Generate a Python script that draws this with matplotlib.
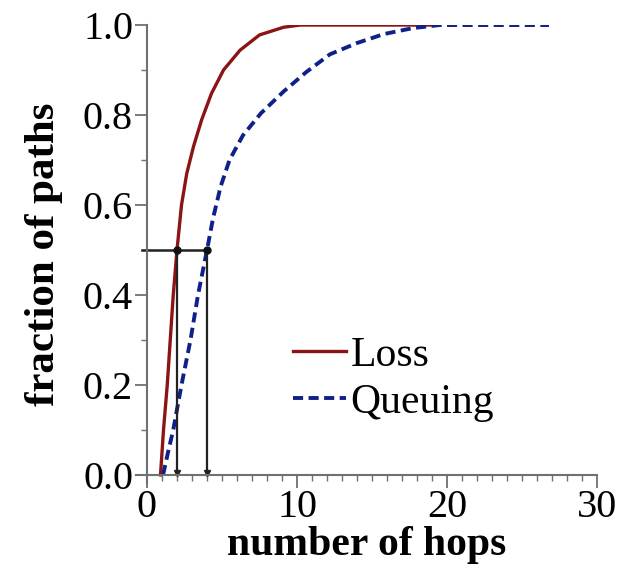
import matplotlib.pyplot as plt
from matplotlib.ticker import MultipleLocator

# CDF of hop distance
loss_x = [0.9, 1.0, 1.1, 1.35, 1.55, 1.75, 2.0, 2.3, 2.65, 3.1, 3.65, 4.3, 5.1, 6.2, 7.5, 9.1, 10.2, 19.5]
loss_y = [0.0, 0.05, 0.1, 0.2, 0.3, 0.4, 0.5, 0.6, 0.67, 0.73, 0.79, 0.848, 0.9, 0.944, 0.978, 0.995, 1.0, 1.0]

queue_x = [1.07, 1.4, 1.75, 2.3, 2.9, 3.4, 4.0, 4.4, 4.9, 5.5, 6.4, 7.6, 9.1, 10.6, 12.2, 14.0, 15.8, 17.7, 19.5, 26.8]
queue_y = [0.0, 0.05, 0.1, 0.2, 0.3, 0.4, 0.5, 0.57, 0.64, 0.7, 0.755, 0.804, 0.852, 0.895, 0.935, 0.96, 0.98, 0.993, 1.0, 1.0]

medians = [2, 4]
median_level = 0.5

plt.rcParams['font.family'] = ['Liberation Serif', 'DejaVu Serif']

fig = plt.figure(figsize=(6.23, 5.65), dpi=100)
ax = fig.add_axes([0.2191, 0.1451, 0.7392, 0.8106])

ax.plot(loss_x, loss_y, color='#8b1414', linewidth=2.4, label='Loss')
ax.plot(queue_x, queue_y, color='#10208b', linewidth=2.8, linestyle=(0, (2.6, 1.4)), label='Queuing')

# median markers
ax.plot([-0.3, max(medians)], [median_level, median_level], color='#222222', linewidth=1.8)
for m in medians:
    ax.plot([m, m], [0, median_level], color='#222222', linewidth=1.6)
    ax.plot(m, median_level, 'o', color='#111111', markersize=5)
    ax.plot(m, 0.005, marker='v', color='#222222', markersize=4)

ax.set_xlim(-0.7, 30)
ax.set_ylim(-0.018, 1.0)

for s in ['top', 'right']:
    ax.spines[s].set_visible(False)
ax.spines['left'].set_position(('data', 0))
ax.spines['bottom'].set_position(('data', 0))
for s in ['left', 'bottom']:
    ax.spines[s].set_color('#707070')
    ax.spines[s].set_linewidth(1.5)

ax.xaxis.set_major_locator(MultipleLocator(10))
ax.xaxis.set_minor_locator(MultipleLocator(1))
ax.yaxis.set_minor_locator(MultipleLocator(0.1))
ax.set_yticks([0.0, 0.2, 0.4, 0.6, 0.8, 1.0])
ax.set_yticklabels(['0.0', '0.2', '0.4', '0.6', '0.8', '1.0'])
ax.tick_params(which='major', length=9, width=1.3, color='#707070', labelsize=29, pad=1)
ax.tick_params(which='minor', length=4, width=1.0, color='#707070')

ax.set_xlabel('number of hops', fontsize=30, fontweight='bold', labelpad=0)
ax.set_ylabel('fraction of paths', fontsize=31, fontweight='bold', labelpad=14)

ax.legend(loc='center left', bbox_to_anchor=(8.33, 0.213), bbox_transform=ax.transData,
          frameon=False, fontsize=30, borderpad=0, handlelength=1.27,
          handletextpad=0.12, labelspacing=0.2)

plt.savefig('out.png', dpi=100)
